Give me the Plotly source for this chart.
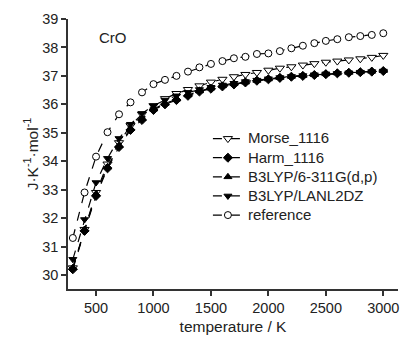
import plotly.graph_objects as go

temperature = [298] + list(range(400, 3001, 100))

morse_1116 = [30.25, 31.6, 32.9, 33.9, 34.65, 35.25, 35.65, 35.95, 36.2, 36.38,
              36.52, 36.65, 36.78, 36.88, 36.97, 37.05, 37.12, 37.2, 37.27, 37.32,
              37.38, 37.43, 37.48, 37.52, 37.56, 37.6, 37.65, 37.72]
harm_1116 = [30.2, 31.55, 32.78, 33.75, 34.5, 35.1, 35.45, 35.8, 36.0, 36.15,
             36.3, 36.45, 36.55, 36.63, 36.7, 36.77, 36.83, 36.88, 36.93, 36.97,
             37.0, 37.03, 37.06, 37.09, 37.11, 37.13, 37.15, 37.17]
b3lyp_6311 = [30.25, 31.6, 32.85, 33.8, 34.55, 35.15, 35.5, 35.83, 36.03, 36.18,
              36.33, 36.47, 36.57, 36.65, 36.72, 36.78, 36.84, 36.89, 36.94, 36.98,
              37.01, 37.04, 37.07, 37.1, 37.12, 37.14, 37.16, 37.18]
b3lyp_lanl2dz = [30.55, 31.95, 33.25, 34.1, 34.8, 35.3, 35.68, 35.95, 36.15, 36.3,
                 36.42, 36.52, 36.6, 36.68, 36.74, 36.8, 36.85, 36.9, 36.94, 36.98,
                 37.01, 37.04, 37.07, 37.09, 37.11, 37.13, 37.15, 37.17]
reference = [31.3, 32.9, 34.16, 35.02, 35.65, 36.07, 36.42, 36.71, 36.86, 37.0,
             37.15, 37.3, 37.42, 37.52, 37.62, 37.67, 37.77, 37.79, 37.87, 37.97,
             38.06, 38.15, 38.23, 38.29, 38.36, 38.4, 38.44, 38.5]

x_ticks = [500, 1000, 1500, 2000, 2500, 3000]
y_ticks = list(range(30, 40))

FONT = "Liberation Sans, Arial, sans-serif"

series = [
    ("Morse_1116", morse_1116, dict(symbol="triangle-down", color="white", size=8,
                                     line=dict(color="black", width=1))),
    ("Harm_1116", harm_1116, dict(symbol="diamond", color="black", size=7,
                                   line=dict(color="black", width=1))),
    ("B3LYP/6-311G(d,p)", b3lyp_6311, dict(symbol="triangle-up", color="black", size=7,
                                           line=dict(color="black", width=1))),
    ("B3LYP/LANL2DZ", b3lyp_lanl2dz, dict(symbol="triangle-down", color="black", size=7,
                                          line=dict(color="black", width=1))),
    ("reference", reference, dict(symbol="circle", color="white", size=7,
                                  line=dict(color="black", width=1))),
]

fig = go.Figure()
for name, vals, marker in series:
    fig.add_trace(go.Scatter(
        x=temperature, y=vals, mode="lines+markers",
        name=f'<span style="font-size:15px">{name}</span>',
        line=dict(color="black", width=1.2, dash="dash"),
        marker=marker,
    ))

fig.update_layout(
    width=400, height=340,
    margin=dict(l=68, r=2, t=19, b=51),
    paper_bgcolor="white", plot_bgcolor="white",
    font=dict(family=FONT, size=15, color="#222"),
    showlegend=True,
    legend=dict(
        x=0.424, y=0.611, xanchor="left", yanchor="top",
        bgcolor="rgba(0,0,0,0)", borderwidth=0,
        font=dict(family=FONT, size=12.4, color="#222"),
        itemsizing="trace",
    ),
    annotations=[dict(text="CrO", x=0.136, y=0.93, xref="paper", yref="paper",
                      xanchor="center", yanchor="middle",
                      showarrow=False, font=dict(family=FONT, size=15, color="#222"))],
)
fig.update_xaxes(
    range=[256, 3128], tickvals=x_ticks, showgrid=False, zeroline=False,
    showline=True, linecolor="#333", linewidth=1.5,
    ticks="outside", ticklen=5, tickcolor="#333", tickwidth=1.5,
    title=dict(text="temperature / K", standoff=6, font=dict(size=15.5)),
    tickfont=dict(size=14.5),
)
fig.update_yaxes(
    range=[29.506, 39], tickvals=y_ticks, showgrid=False, zeroline=False,
    showline=True, linecolor="#333", linewidth=1.5,
    ticks="outside", ticklen=5, tickcolor="#333", tickwidth=1.5,
    title=dict(text="J·K<sup>-1</sup>·mol<sup>-1</sup>", standoff=0, font=dict(size=15.5)),
    tickfont=dict(size=14.5),
)

fig.write_html("out.html")
